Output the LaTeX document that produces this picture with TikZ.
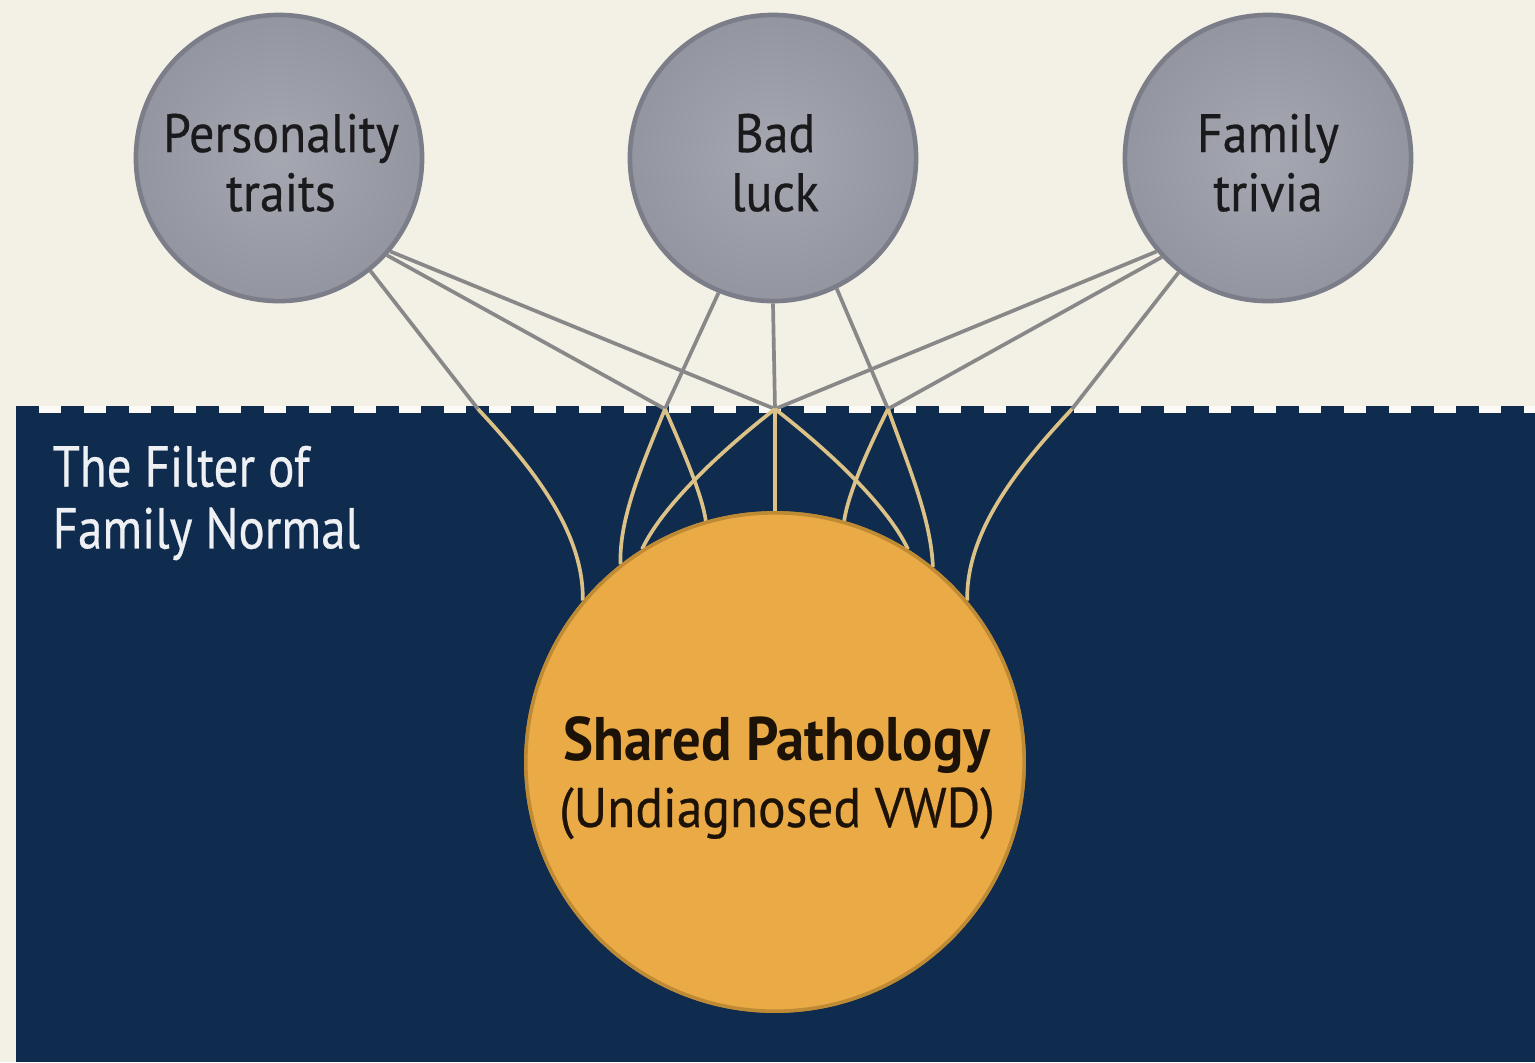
\documentclass[tikz,border=0pt]{standalone}
\usepackage{fontspec}
\setmainfont{PT Sans}[FakeStretch=0.92]
\newfontfamily\medfont{PT Sans}[FakeStretch=0.92, FakeBold=0.45]
\newfontfamily\narrowfont{PT Sans}[FakeStretch=0.85, FakeBold=0.45]
\definecolor{cream}{HTML}{F3F0E6}
\definecolor{gapwhite}{HTML}{FBFAF6}
\definecolor{navy}{HTML}{0F2C4E}
\definecolor{greyin}{HTML}{A5A7B1}
\definecolor{greyout}{HTML}{9396A0}
\definecolor{greyedge}{HTML}{7B7E89}
\definecolor{goldfill}{HTML}{EAAB47}
\definecolor{goldedge}{HTML}{BF8A34}
\definecolor{wire}{HTML}{888888}
\definecolor{goldwire}{HTML}{DCC287}
\definecolor{inktext}{HTML}{1A1A1C}
\definecolor{darkink}{HTML}{1C1208}
\definecolor{paletext}{HTML}{EEF0F4}
\tikzset{
  topcircle/.style={circle, draw=greyedge, line width=1.3pt, inner color=greyin, outer color=greyout, minimum size=2.86cm, inner sep=0pt},
  toptext/.style={anchor=north, inner sep=0pt, align=center, text=inktext, font=\medfont\fontsize{15.4}{16.8}\selectfont},
  bigcircle/.style={circle, draw=goldedge, fill=goldfill, line width=1pt, minimum size=4.98cm, inner sep=0pt},
  wireline/.style={draw=wire, line width=1.05pt},
  goldline/.style={draw=goldwire, line width=1.05pt},
}
\begin{document}
\begin{tikzpicture}[x=0.01cm, y=-0.01cm]
\useasboundingbox (0,0) rectangle (1535,1062);
\fill[cream] (0,0) rectangle (1535,1062);
% filter region
\fill[navy] (16,412) rectangle (1535,1062);
\fill[gapwhite] (16,405.5) rectangle (1535,412.5);
\draw[navy, line width=2pt, dash pattern=on 6.5pt off 6.3pt] (16,409) -- (1535,409);

% junction points on the filter edge
\coordinate (J1) at (478,409);
\coordinate (J2) at (665,409);
\coordinate (J3) at (775,409);
\coordinate (J4) at (888,409);
\coordinate (J5) at (1072,409);

% nodes
\node[topcircle] (P) at (279,158) {};
\node[topcircle] (B) at (773,158) {};
\node[topcircle] (F) at (1268,158) {};
\node[bigcircle] (S) at (775,762) {};

% gray connectors
\draw[wireline] (P.-51.5) -- (J1);
\draw[wireline] (P.-42.5) -- (J2);
\draw[wireline] (P.-40) -- (J3);
\draw[wireline] (B.-112) -- (J2);
\draw[wireline] (B.-90) -- (J3);
\draw[wireline] (B.-64) -- (J4);
\draw[wireline] (F.-140) -- (J3);
\draw[wireline] (F.-137.5) -- (J4);
\draw[wireline] (F.-128.5) -- (J5);

% gold connectors
\draw[goldline] (J1) .. controls (530,465) and (584,530) .. (S.140);
\draw[goldline] (J2) .. controls (640,470) and (619,520) .. (S.128.5);
\draw[goldline] (J2) .. controls (685,455) and (702,495) .. (S.106);
\draw[goldline] (J3) .. controls (735,440) and (665,500) .. (S.122);
\draw[goldline] (J3) -- (S.90);
\draw[goldline] (J3) .. controls (815,440) and (885,500) .. (S.58);
\draw[goldline] (J4) .. controls (865,455) and (848,495) .. (S.74);
\draw[goldline] (J4) .. controls (910,470) and (931,520) .. (S.51.5);
\draw[goldline] (J5) .. controls (1020,465) and (966,530) .. (S.40);

% redraw circle on top of connector ends
\node[bigcircle] at (S) {};

% texts
\node[toptext] (Pt) at (281,113) {Personality\\traits};
\node[toptext] (Bt) at (775,113) {Bad\\luck};
\node[toptext] (Ft) at (1268,113) {Family\\trivia};
\node[anchor=north west, inner sep=0pt, align=left, text=paletext, font=\narrowfont\fontsize{16.4}{17.6}\selectfont] (L) at (52,445) {The Filter of\\Family Normal};
\node[anchor=base, inner sep=0pt, text=darkink, font=\bfseries\fontsize{17.5}{19}\selectfont] (S1) at (777,760) {Shared Pathology};
\node[anchor=base, inner sep=0pt, text=darkink, font=\medfont\fontsize{15.9}{19}\selectfont] (S2) at (777,827) {(Undiagnosed VWD)};
\end{tikzpicture}
\end{document}
